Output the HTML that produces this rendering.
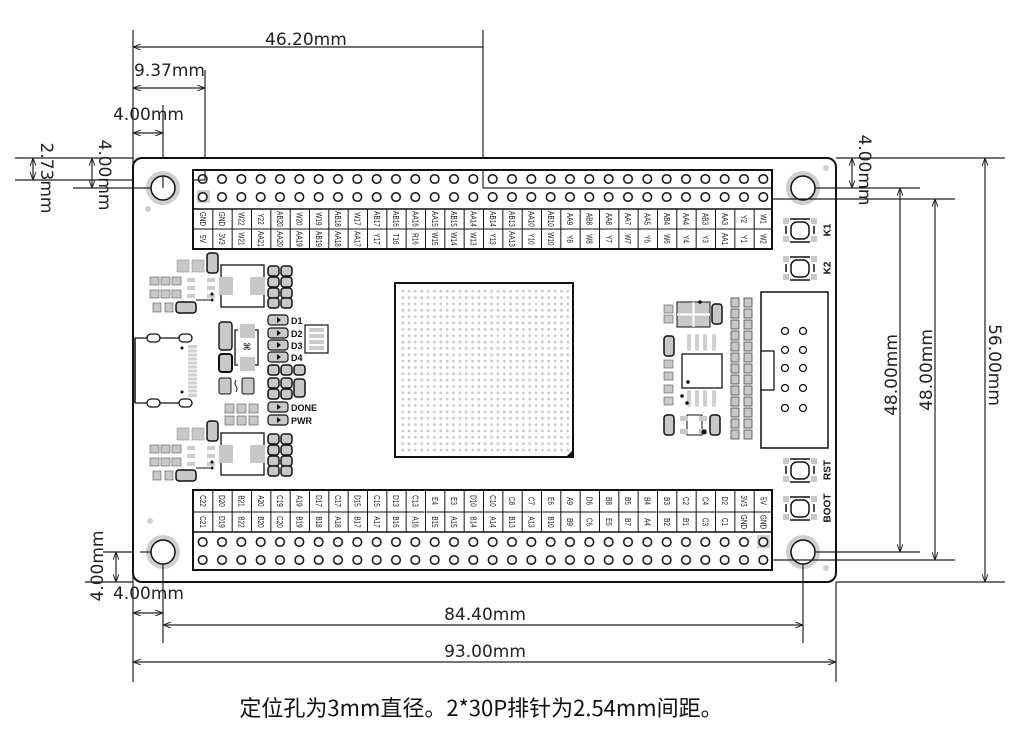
<!DOCTYPE html>
<html><head><meta charset="utf-8"><style>
html,body{margin:0;padding:0;background:#fff;}
svg{display:block;}
.d{font-family:"DejaVu Sans","Liberation Sans",sans-serif;font-size:17px;fill:#222;}
.l{font-family:"Liberation Sans",sans-serif;font-size:8px;fill:#111;}
.b{font-family:"Liberation Sans",sans-serif;font-size:10px;font-weight:bold;fill:#111;}
</style></head><body>
<svg width="1032" height="747" viewBox="0 0 1032 747" xmlns="http://www.w3.org/2000/svg">
<defs>
<marker id="a" markerWidth="8" markerHeight="6" refX="8" refY="3" orient="auto-start-reverse" markerUnits="userSpaceOnUse"><path d="M0,0 L8,3 L0,6" fill="none" stroke="#222" stroke-width="1"/></marker>
<pattern id="pins" x="193" y="170" width="19.333" height="18" patternUnits="userSpaceOnUse"><circle cx="9.67" cy="9" r="4.3" fill="#fff" stroke="#111" stroke-width="1.5"/></pattern>
<pattern id="pins2" x="193" y="533" width="19.333" height="18" patternUnits="userSpaceOnUse"><circle cx="9.67" cy="9" r="4.3" fill="#fff" stroke="#111" stroke-width="1.5"/></pattern>
<pattern id="cols" x="193" y="0" width="19.333" height="10" patternUnits="userSpaceOnUse"><rect x="0" y="0" width="1" height="10" fill="#111"/></pattern>
<pattern id="bga" x="399.5" y="288" width="6.35" height="6.35" patternUnits="userSpaceOnUse"><circle cx="3.2" cy="3.2" r="1.4" fill="#c9c9c9"/></pattern>
<g id="btn">
<rect x="-17" y="-12" width="6" height="6" fill="#c8c8c8"/><rect x="11" y="-12" width="6" height="6" fill="#c8c8c8"/>
<rect x="-17" y="6" width="6" height="6" fill="#c8c8c8"/><rect x="11" y="6" width="6" height="6" fill="#c8c8c8"/>
<line x1="-10" y1="-11" x2="10" y2="-11" stroke="#111" stroke-width="1.5"/>
<line x1="-10" y1="12" x2="10" y2="12" stroke="#111" stroke-width="1.5"/>
<rect x="-9" y="-8" width="18" height="17" rx="6" fill="#fff" stroke="#111" stroke-width="1.5"/>
<line x1="-14" y1="-4" x2="-14" y2="4" stroke="#111" stroke-width="1.5"/>
<line x1="14" y1="-4" x2="14" y2="4" stroke="#111" stroke-width="1.5"/>
</g>
<g id="reg">
<rect x="221" y="265" width="43" height="42" fill="#fff" stroke="#111" stroke-width="1.3"/>
<rect x="219" y="277" width="14" height="18" fill="#c8c8c8"/><rect x="250" y="277" width="15" height="18" fill="#c8c8c8"/>
<rect x="177" y="260" width="12" height="12" fill="#c8c8c8" stroke="#888" stroke-width=".5"/><rect x="192" y="260" width="12" height="12" fill="#c8c8c8" stroke="#888" stroke-width=".5"/>
<rect x="207" y="253" width="11" height="20" rx="3" fill="#c8c8c8" stroke="#111" stroke-width="1.5"/>
<rect x="150" y="277" width="9" height="8" fill="#c8c8c8" stroke="#555" stroke-width=".6"/><rect x="161" y="277" width="9" height="8" fill="#c8c8c8" stroke="#555" stroke-width=".6"/><rect x="172" y="277" width="9" height="8" fill="#c8c8c8" stroke="#555" stroke-width=".6"/>
<rect x="150" y="290" width="9" height="8" fill="#c8c8c8" stroke="#555" stroke-width=".6"/><rect x="161" y="290" width="9" height="8" fill="#c8c8c8" stroke="#555" stroke-width=".6"/><rect x="172" y="290" width="9" height="8" fill="#c8c8c8" stroke="#555" stroke-width=".6"/>
<rect x="187" y="278" width="8" height="4" fill="#ccc"/><rect x="187" y="286" width="8" height="4" fill="#ccc"/><rect x="187" y="294" width="8" height="4" fill="#ccc"/>
<rect x="207" y="278" width="8" height="4" fill="#ccc"/><rect x="207" y="286" width="8" height="4" fill="#ccc"/><rect x="207" y="294" width="8" height="4" fill="#ccc"/>
<circle cx="212" cy="294" r="1.5" fill="#111"/><circle cx="212" cy="300" r="1.5" fill="#111"/><line x1="196" y1="300" x2="210" y2="300" stroke="#111"/>
<rect x="153" y="303" width="8" height="9" fill="#c8c8c8" stroke="#555" stroke-width=".6"/><rect x="165" y="303" width="8" height="9" fill="#c8c8c8" stroke="#555" stroke-width=".6"/>
<rect x="176" y="302" width="20" height="11" rx="3" fill="#c8c8c8" stroke="#111" stroke-width="1.5"/>
<rect x="268" y="266" width="11" height="10" rx="3" fill="#c8c8c8" stroke="#111" stroke-width="1.5"/><rect x="281" y="266" width="11" height="10" rx="3" fill="#c8c8c8" stroke="#111" stroke-width="1.5"/>
<rect x="268" y="277" width="11" height="10" rx="3" fill="#c8c8c8" stroke="#111" stroke-width="1.5"/><rect x="281" y="277" width="11" height="10" rx="3" fill="#c8c8c8" stroke="#111" stroke-width="1.5"/>
<rect x="268" y="288" width="11" height="10" rx="3" fill="#c8c8c8" stroke="#111" stroke-width="1.5"/><rect x="281" y="288" width="11" height="10" rx="3" fill="#c8c8c8" stroke="#111" stroke-width="1.5"/>
<rect x="268" y="298" width="11" height="10" rx="3" fill="#c8c8c8" stroke="#111" stroke-width="1.5"/><rect x="281" y="298" width="11" height="10" rx="3" fill="#c8c8c8" stroke="#111" stroke-width="1.5"/>
</g>
<g id="led"><rect x="0" y="0" width="20" height="10" rx="3" fill="#c8c8c8" stroke="#111" stroke-width="1.2"/><path d="M9,2 L13,5 L9,8Z" fill="#111"/></g>
</defs>

<g stroke="#222" stroke-width="1.2" fill="none">
<line x1="133" y1="30" x2="133" y2="682"/>
<line x1="483" y1="30" x2="483" y2="188"/>
<line x1="483" y1="188" x2="920" y2="188"/>
<line x1="205" y1="70" x2="205" y2="180"/>
<line x1="163" y1="105" x2="163" y2="188"/>
<line x1="133" y1="47" x2="483" y2="47" marker-start="url(#a)"/>
<line x1="133" y1="88" x2="205" y2="88" marker-start="url(#a)" marker-end="url(#a)"/>
<line x1="133" y1="133" x2="163" y2="133" marker-start="url(#a)" marker-end="url(#a)"/>
<line x1="15" y1="158" x2="133" y2="158"/>
<line x1="15" y1="180" x2="205" y2="180"/>
<line x1="73" y1="188" x2="163" y2="188"/>
<line x1="33" y1="158" x2="33" y2="180" marker-start="url(#a)" marker-end="url(#a)"/>
<line x1="92" y1="158" x2="92" y2="188" marker-start="url(#a)" marker-end="url(#a)"/>
<line x1="836" y1="158" x2="1005" y2="158"/>
<line x1="772" y1="199" x2="955" y2="199"/>
<line x1="803" y1="552" x2="920" y2="552"/>
<line x1="772" y1="560" x2="955" y2="560"/>
<line x1="836" y1="582" x2="1005" y2="582"/>
<line x1="852" y1="158" x2="852" y2="188" marker-start="url(#a)" marker-end="url(#a)"/>
<line x1="900" y1="188" x2="900" y2="552" marker-start="url(#a)" marker-end="url(#a)"/>
<line x1="935" y1="199" x2="935" y2="560" marker-start="url(#a)" marker-end="url(#a)"/>
<line x1="985" y1="158" x2="985" y2="582" marker-start="url(#a)" marker-end="url(#a)"/>
<line x1="103" y1="552" x2="163" y2="552"/>
<line x1="85" y1="582" x2="133" y2="582"/>
<line x1="116" y1="552" x2="116" y2="582" marker-start="url(#a)" marker-end="url(#a)"/>
<line x1="163" y1="552" x2="163" y2="643"/>
<line x1="803" y1="552" x2="803" y2="643"/>
<line x1="836" y1="582" x2="836" y2="682"/>
<line x1="133" y1="613" x2="163" y2="613" marker-start="url(#a)" marker-end="url(#a)"/>
<line x1="163" y1="625" x2="803" y2="625" marker-start="url(#a)" marker-end="url(#a)"/>
<line x1="133" y1="662" x2="836" y2="662" marker-start="url(#a)" marker-end="url(#a)"/>
</g>
<g class="d">
<text x="265" y="45">46.20mm</text>
<text x="134" y="76">9.37mm</text>
<text x="113" y="120">4.00mm</text>
<text transform="translate(46,178) rotate(90)" text-anchor="middle" dominant-baseline="central">2.73mm</text>
<text transform="translate(104,175) rotate(90)" text-anchor="middle" dominant-baseline="central">4.00mm</text>
<text transform="translate(864,170) rotate(90)" text-anchor="middle" dominant-baseline="central">4.00mm</text>
<text transform="translate(892,375) rotate(-90)" text-anchor="middle" dominant-baseline="central">48.00mm</text>
<text transform="translate(927,370) rotate(-90)" text-anchor="middle" dominant-baseline="central">48.00mm</text>
<text transform="translate(994,365) rotate(90)" text-anchor="middle" dominant-baseline="central">56.00mm</text>
<text transform="translate(98,566) rotate(-90)" text-anchor="middle" dominant-baseline="central">4.00mm</text>
<text x="113" y="599">4.00mm</text>
<rect x="438" y="605" width="94" height="19" fill="#fff"/>
<text x="485" y="620" text-anchor="middle">84.40mm</text>
<rect x="438" y="643" width="94" height="18" fill="#fff"/>
<text x="485" y="657" text-anchor="middle">93.00mm</text>
</g>
<text x="481" y="716" text-anchor="middle" style="font-family:'Noto Sans CJK SC','Liberation Sans',sans-serif;font-size:22px;fill:#111">定位孔为3mm直径。2*30P排针为2.54mm间距。</text>

<rect x="133" y="158" width="703" height="424" rx="9" fill="#fff" stroke="#111" stroke-width="2"/>
<g>
<circle cx="163" cy="188" r="17" fill="#cfcfcf"/><circle cx="163" cy="188" r="12" fill="#fff" stroke="#111" stroke-width="1.5"/>
<circle cx="803" cy="188" r="17" fill="#cfcfcf"/><circle cx="803" cy="188" r="12" fill="#fff" stroke="#111" stroke-width="1.5"/>
<circle cx="163" cy="552" r="17" fill="#cfcfcf"/><circle cx="163" cy="552" r="12" fill="#fff" stroke="#111" stroke-width="1.5"/>
<circle cx="803" cy="552" r="17" fill="#cfcfcf"/><circle cx="803" cy="552" r="12" fill="#fff" stroke="#111" stroke-width="1.5"/>
<circle cx="148" cy="209" r="3" fill="#cfcfcf"/><circle cx="150" cy="521" r="3" fill="#cfcfcf"/>
<circle cx="826" cy="168" r="3" fill="#cfcfcf"/><circle cx="826" cy="568" r="3" fill="#cfcfcf"/>
</g>
<g stroke="#222" stroke-width="1.2">
<line x1="133" y1="188" x2="151" y2="188"/><line x1="163" y1="176" x2="163" y2="188"/>
<line x1="815" y1="188" x2="836" y2="188"/><line x1="773" y1="199" x2="836" y2="199"/>
<line x1="140" y1="552" x2="151" y2="552"/><line x1="163" y1="564" x2="163" y2="582"/>
<line x1="803" y1="564" x2="803" y2="582"/><line x1="815" y1="552" x2="836" y2="552"/><line x1="772" y1="560" x2="836" y2="560"/>
</g>

<rect x="193" y="170" width="579" height="79" fill="#fff" stroke="#111" stroke-width="2"/>
<rect x="197" y="190" width="13" height="13" fill="#cfcfcf"/>
<rect x="193" y="170" width="579" height="38" fill="url(#pins)"/>
<line x1="483" y1="170" x2="483" y2="188" stroke="#222" stroke-width="1.2"/>
<line x1="205" y1="170" x2="205" y2="180" stroke="#222" stroke-width="1.2"/>
<path d="M483,188 H772 M193,180 H205" stroke="#222" stroke-width="1.2"/>
<line x1="193" y1="209" x2="772" y2="209" stroke="#111" stroke-width="1.5"/>
<line x1="193" y1="229" x2="772" y2="229" stroke="#111" stroke-width="1"/>
<rect x="193" y="209" width="579" height="40" fill="url(#cols)"/>
<rect x="193" y="490" width="579" height="80" fill="#fff" stroke="#111" stroke-width="2"/>
<rect x="193" y="490" width="579" height="42" fill="url(#cols)"/>
<line x1="193" y1="512" x2="772" y2="512" stroke="#111" stroke-width="1"/>
<line x1="193" y1="532" x2="772" y2="532" stroke="#111" stroke-width="1.5"/>
<rect x="757" y="535" width="13" height="13" fill="#cfcfcf"/>
<rect x="193" y="533" width="579" height="36" fill="url(#pins2)"/>

<g class="l" text-anchor="middle" dominant-baseline="central">
<text transform="translate(202.7,219) rotate(90) scale(0.8,1)">GND</text><text transform="translate(222,219) rotate(90) scale(0.8,1)">GND</text><text transform="translate(241.3,219) rotate(90) scale(0.8,1)">W22</text><text transform="translate(260.7,219) rotate(90) scale(0.8,1)">Y22</text><text transform="translate(280,219) rotate(90) scale(0.8,1)">AB20</text><text transform="translate(299.3,219) rotate(90) scale(0.8,1)">W20</text><text transform="translate(318.7,219) rotate(90) scale(0.8,1)">W19</text><text transform="translate(338,219) rotate(90) scale(0.8,1)">AB18</text><text transform="translate(357.3,219) rotate(90) scale(0.8,1)">W17</text><text transform="translate(376.7,219) rotate(90) scale(0.8,1)">AB17</text><text transform="translate(396,219) rotate(90) scale(0.8,1)">AB16</text><text transform="translate(415.3,219) rotate(90) scale(0.8,1)">AA16</text><text transform="translate(434.7,219) rotate(90) scale(0.8,1)">AA15</text><text transform="translate(454,219) rotate(90) scale(0.8,1)">AB15</text><text transform="translate(473.3,219) rotate(90) scale(0.8,1)">AA14</text><text transform="translate(492.7,219) rotate(90) scale(0.8,1)">AB14</text><text transform="translate(512,219) rotate(90) scale(0.8,1)">AB13</text><text transform="translate(531.3,219) rotate(90) scale(0.8,1)">AA10</text><text transform="translate(550.7,219) rotate(90) scale(0.8,1)">AB10</text><text transform="translate(570,219) rotate(90) scale(0.8,1)">AA9</text><text transform="translate(589.3,219) rotate(90) scale(0.8,1)">AB8</text><text transform="translate(608.7,219) rotate(90) scale(0.8,1)">AA8</text><text transform="translate(628,219) rotate(90) scale(0.8,1)">AA7</text><text transform="translate(647.3,219) rotate(90) scale(0.8,1)">AA5</text><text transform="translate(666.7,219) rotate(90) scale(0.8,1)">AB4</text><text transform="translate(686,219) rotate(90) scale(0.8,1)">AA4</text><text transform="translate(705.3,219) rotate(90) scale(0.8,1)">AB3</text><text transform="translate(724.7,219) rotate(90) scale(0.8,1)">AA3</text><text transform="translate(744,219) rotate(90) scale(0.8,1)">Y2</text><text transform="translate(763.3,219) rotate(90) scale(0.8,1)">W1</text>
<text transform="translate(202.7,239) rotate(90) scale(0.8,1)">5V</text><text transform="translate(222,239) rotate(90) scale(0.8,1)">3V3</text><text transform="translate(241.3,239) rotate(90) scale(0.8,1)">W21</text><text transform="translate(260.7,239) rotate(90) scale(0.8,1)">AA21</text><text transform="translate(280,239) rotate(90) scale(0.8,1)">AA20</text><text transform="translate(299.3,239) rotate(90) scale(0.8,1)">AA19</text><text transform="translate(318.7,239) rotate(90) scale(0.8,1)">AB19</text><text transform="translate(338,239) rotate(90) scale(0.8,1)">AA18</text><text transform="translate(357.3,239) rotate(90) scale(0.8,1)">AA17</text><text transform="translate(376.7,239) rotate(90) scale(0.8,1)">Y17</text><text transform="translate(396,239) rotate(90) scale(0.8,1)">T16</text><text transform="translate(415.3,239) rotate(90) scale(0.8,1)">R16</text><text transform="translate(434.7,239) rotate(90) scale(0.8,1)">W15</text><text transform="translate(454,239) rotate(90) scale(0.8,1)">W14</text><text transform="translate(473.3,239) rotate(90) scale(0.8,1)">W13</text><text transform="translate(492.7,239) rotate(90) scale(0.8,1)">Y13</text><text transform="translate(512,239) rotate(90) scale(0.8,1)">AA13</text><text transform="translate(531.3,239) rotate(90) scale(0.8,1)">Y10</text><text transform="translate(550.7,239) rotate(90) scale(0.8,1)">W10</text><text transform="translate(570,239) rotate(90) scale(0.8,1)">Y8</text><text transform="translate(589.3,239) rotate(90) scale(0.8,1)">W8</text><text transform="translate(608.7,239) rotate(90) scale(0.8,1)">Y7</text><text transform="translate(628,239) rotate(90) scale(0.8,1)">W7</text><text transform="translate(647.3,239) rotate(90) scale(0.8,1)">Y6</text><text transform="translate(666.7,239) rotate(90) scale(0.8,1)">W6</text><text transform="translate(686,239) rotate(90) scale(0.8,1)">Y4</text><text transform="translate(705.3,239) rotate(90) scale(0.8,1)">Y3</text><text transform="translate(724.7,239) rotate(90) scale(0.8,1)">AA1</text><text transform="translate(744,239) rotate(90) scale(0.8,1)">Y1</text><text transform="translate(763.3,239) rotate(90) scale(0.8,1)">W2</text>
<text transform="translate(202.7,501) rotate(90) scale(0.8,1)">C22</text><text transform="translate(222,501) rotate(90) scale(0.8,1)">D20</text><text transform="translate(241.3,501) rotate(90) scale(0.8,1)">B21</text><text transform="translate(260.7,501) rotate(90) scale(0.8,1)">A20</text><text transform="translate(280,501) rotate(90) scale(0.8,1)">C19</text><text transform="translate(299.3,501) rotate(90) scale(0.8,1)">A19</text><text transform="translate(318.7,501) rotate(90) scale(0.8,1)">D17</text><text transform="translate(338,501) rotate(90) scale(0.8,1)">C17</text><text transform="translate(357.3,501) rotate(90) scale(0.8,1)">D15</text><text transform="translate(376.7,501) rotate(90) scale(0.8,1)">C15</text><text transform="translate(396,501) rotate(90) scale(0.8,1)">D13</text><text transform="translate(415.3,501) rotate(90) scale(0.8,1)">C13</text><text transform="translate(434.7,501) rotate(90) scale(0.8,1)">E4</text><text transform="translate(454,501) rotate(90) scale(0.8,1)">E3</text><text transform="translate(473.3,501) rotate(90) scale(0.8,1)">D10</text><text transform="translate(492.7,501) rotate(90) scale(0.8,1)">C10</text><text transform="translate(512,501) rotate(90) scale(0.8,1)">C8</text><text transform="translate(531.3,501) rotate(90) scale(0.8,1)">C7</text><text transform="translate(550.7,501) rotate(90) scale(0.8,1)">E6</text><text transform="translate(570,501) rotate(90) scale(0.8,1)">A9</text><text transform="translate(589.3,501) rotate(90) scale(0.8,1)">D6</text><text transform="translate(608.7,501) rotate(90) scale(0.8,1)">B8</text><text transform="translate(628,501) rotate(90) scale(0.8,1)">B5</text><text transform="translate(647.3,501) rotate(90) scale(0.8,1)">B4</text><text transform="translate(666.7,501) rotate(90) scale(0.8,1)">B3</text><text transform="translate(686,501) rotate(90) scale(0.8,1)">C2</text><text transform="translate(705.3,501) rotate(90) scale(0.8,1)">C4</text><text transform="translate(724.7,501) rotate(90) scale(0.8,1)">D2</text><text transform="translate(744,501) rotate(90) scale(0.8,1)">3V3</text><text transform="translate(763.3,501) rotate(90) scale(0.8,1)">5V</text>
<text transform="translate(202.7,522) rotate(90) scale(0.8,1)">C21</text><text transform="translate(222,522) rotate(90) scale(0.8,1)">D19</text><text transform="translate(241.3,522) rotate(90) scale(0.8,1)">B22</text><text transform="translate(260.7,522) rotate(90) scale(0.8,1)">B20</text><text transform="translate(280,522) rotate(90) scale(0.8,1)">C20</text><text transform="translate(299.3,522) rotate(90) scale(0.8,1)">B19</text><text transform="translate(318.7,522) rotate(90) scale(0.8,1)">B18</text><text transform="translate(338,522) rotate(90) scale(0.8,1)">A18</text><text transform="translate(357.3,522) rotate(90) scale(0.8,1)">B17</text><text transform="translate(376.7,522) rotate(90) scale(0.8,1)">A17</text><text transform="translate(396,522) rotate(90) scale(0.8,1)">B16</text><text transform="translate(415.3,522) rotate(90) scale(0.8,1)">A16</text><text transform="translate(434.7,522) rotate(90) scale(0.8,1)">B15</text><text transform="translate(454,522) rotate(90) scale(0.8,1)">A15</text><text transform="translate(473.3,522) rotate(90) scale(0.8,1)">B14</text><text transform="translate(492.7,522) rotate(90) scale(0.8,1)">A14</text><text transform="translate(512,522) rotate(90) scale(0.8,1)">B13</text><text transform="translate(531.3,522) rotate(90) scale(0.8,1)">A13</text><text transform="translate(550.7,522) rotate(90) scale(0.8,1)">B10</text><text transform="translate(570,522) rotate(90) scale(0.8,1)">B9</text><text transform="translate(589.3,522) rotate(90) scale(0.8,1)">C6</text><text transform="translate(608.7,522) rotate(90) scale(0.8,1)">E5</text><text transform="translate(628,522) rotate(90) scale(0.8,1)">B7</text><text transform="translate(647.3,522) rotate(90) scale(0.8,1)">A4</text><text transform="translate(666.7,522) rotate(90) scale(0.8,1)">B2</text><text transform="translate(686,522) rotate(90) scale(0.8,1)">B1</text><text transform="translate(705.3,522) rotate(90) scale(0.8,1)">C3</text><text transform="translate(724.7,522) rotate(90) scale(0.8,1)">C1</text><text transform="translate(744,522) rotate(90) scale(0.8,1)">GND</text><text transform="translate(763.3,522) rotate(90) scale(0.8,1)">GND</text>
</g>

<rect x="395" y="283" width="178" height="174" fill="#fff" stroke="#111" stroke-width="2"/>
<rect x="399" y="287" width="170" height="166" fill="url(#bga)"/>
<path d="M573,450 L573,457 L566,457Z" fill="#111"/>

<use href="#reg"/>
<use href="#reg" transform="translate(0,168)"/>
<line x1="135" y1="338" x2="135" y2="403" stroke="#111" stroke-width="1.5"/>
<line x1="135" y1="338" x2="185" y2="338" stroke="#111" stroke-width="1.3"/>
<line x1="135" y1="403" x2="185" y2="403" stroke="#111" stroke-width="1.3"/>
<rect x="147" y="334" width="13" height="8" rx="4" fill="#fff" stroke="#111" stroke-width="1.3"/><rect x="179" y="334" width="13" height="8" rx="4" fill="#fff" stroke="#111" stroke-width="1.3"/>
<rect x="147" y="399" width="13" height="8" rx="4" fill="#fff" stroke="#111" stroke-width="1.3"/><rect x="179" y="399" width="13" height="8" rx="4" fill="#fff" stroke="#111" stroke-width="1.3"/>
<rect x="188" y="345" width="9" height="52" fill="#d0d0d0"/>
<path d="M188,349 H197 M188,353 H197 M188,357 H197 M188,361 H197 M188,365 H197 M188,369 H197 M188,373 H197 M188,377 H197 M188,381 H197 M188,385 H197 M188,389 H197 M188,393 H197" stroke="#fff" stroke-width="1"/>
<circle cx="182" cy="348" r="1.5" fill="#111"/><circle cx="182" cy="392" r="1.5" fill="#111"/>
<rect x="219" y="322" width="13" height="28" rx="3" fill="#c8c8c8" stroke="#111" stroke-width="1.4"/>
<rect x="219" y="354" width="13" height="18" rx="3" fill="#c8c8c8" stroke="#111" stroke-width="2"/>
<path d="M238,330 h-3 v35 h3 M255,330 h3 v35 h-3" fill="none" stroke="#111" stroke-width="1.3"/>
<rect x="240" y="324" width="15" height="14" fill="#c8c8c8"/><rect x="240" y="357" width="15" height="14" fill="#c8c8c8"/>
<text x="247" y="350" text-anchor="middle" style="font-size:9px;font-family:'DejaVu Sans',sans-serif;fill:#111">⌘</text>
<rect x="219" y="378" width="12" height="16" rx="2" fill="#c8c8c8" stroke="#111" stroke-width="1"/><rect x="242" y="378" width="12" height="16" rx="2" fill="#c8c8c8" stroke="#111" stroke-width="1"/>
<path d="M236,380 q-2,4 0,6 q2,3 0,6" fill="none" stroke="#111"/>
<g fill="#c8c8c8" stroke="#555" stroke-width=".6">
<rect x="225" y="404" width="9" height="9"/><rect x="237" y="404" width="9" height="9"/><rect x="249" y="404" width="9" height="9"/>
<rect x="225" y="416" width="9" height="9"/><rect x="237" y="416" width="9" height="9"/><rect x="249" y="416" width="9" height="9"/>
</g>
<use href="#led" x="268" y="315"/><use href="#led" x="268" y="328"/><use href="#led" x="268" y="340"/><use href="#led" x="268" y="352"/>
<use href="#led" x="268" y="402"/><use href="#led" x="268" y="415"/>
<g style="font-family:'Liberation Sans',sans-serif;font-size:9px;font-weight:bold;fill:#111">
<text x="291" y="324">D1</text><text x="291" y="337">D2</text><text x="291" y="349">D3</text><text x="291" y="361">D4</text>
<text x="291" y="411">DONE</text><text x="291" y="424">PWR</text>
</g>
<rect x="305" y="325" width="23" height="28" fill="#fff" stroke="#111" stroke-width="1.2"/>
<path d="M309,330 h15 M309,336 h15 M309,342 h15 M309,348 h15" stroke="#ccc" stroke-width="4"/>
<g>
<rect x="268" y="365" width="11" height="10" rx="3" fill="#c8c8c8" stroke="#111" stroke-width="1.5"/><rect x="281" y="365" width="11" height="10" rx="3" fill="#c8c8c8" stroke="#111" stroke-width="1.5"/><rect x="294" y="365" width="11" height="10" rx="3" fill="#c8c8c8" stroke="#111" stroke-width="1.5"/>
<rect x="268" y="378" width="11" height="10" rx="3" fill="#c8c8c8" stroke="#111" stroke-width="1.5"/><rect x="281" y="378" width="11" height="10" rx="3" fill="#c8c8c8" stroke="#111" stroke-width="1.5"/><rect x="294" y="379" width="11" height="18" rx="3" fill="#c8c8c8" stroke="#111" stroke-width="1.5"/>
<rect x="268" y="389" width="11" height="10" rx="3" fill="#c8c8c8" stroke="#111" stroke-width="1.5"/><rect x="281" y="389" width="11" height="10" rx="3" fill="#c8c8c8" stroke="#111" stroke-width="1.5"/>
</g>

<g fill="#c8c8c8" stroke="#444" stroke-width=".8">
<rect x="731" y="298" width="8" height="9"/><rect x="744" y="298" width="8" height="9"/>
<rect x="731" y="309" width="8" height="9"/><rect x="744" y="309" width="8" height="9"/>
<rect x="731" y="320" width="8" height="9"/><rect x="744" y="320" width="8" height="9"/>
<rect x="731" y="331" width="8" height="9"/><rect x="744" y="331" width="8" height="9"/>
<rect x="731" y="342" width="8" height="9"/><rect x="744" y="342" width="8" height="9"/>
<rect x="731" y="353" width="8" height="9"/><rect x="744" y="353" width="8" height="9"/>
<rect x="731" y="364" width="8" height="9"/><rect x="744" y="364" width="8" height="9"/>
<rect x="731" y="375" width="8" height="9"/><rect x="744" y="375" width="8" height="9"/>
<rect x="731" y="386" width="8" height="9"/><rect x="744" y="386" width="8" height="9"/>
<rect x="731" y="397" width="8" height="9"/><rect x="744" y="397" width="8" height="9"/>
<rect x="731" y="408" width="8" height="9"/><rect x="744" y="408" width="8" height="9"/>
<rect x="731" y="419" width="8" height="9"/><rect x="744" y="419" width="8" height="9"/>
<rect x="731" y="430" width="8" height="9"/><rect x="744" y="430" width="8" height="9"/>
</g>
<rect x="761" y="292" width="67" height="156" fill="#fff" stroke="#111" stroke-width="1.5"/>
<rect x="761" y="351" width="13" height="39" fill="#fff" stroke="#111" stroke-width="1.3"/>
<g fill="#fff" stroke="#111" stroke-width="1.3">
<circle cx="785" cy="331" r="3.5"/><circle cx="803" cy="331" r="3.5"/>
<circle cx="785" cy="350" r="3.5"/><circle cx="803" cy="350" r="3.5"/>
<circle cx="785" cy="368" r="3.5"/><circle cx="803" cy="368" r="3.5"/>
<circle cx="785" cy="388" r="3.5"/><circle cx="803" cy="388" r="3.5"/>
<circle cx="785" cy="408" r="3.5"/><circle cx="803" cy="408" r="3.5"/>
</g>
<rect x="677" y="302" width="33" height="25" fill="#c8c8c8" stroke="#111" stroke-width="1"/>
<path d="M693.5,302 v25 M677,314.5 h33" stroke="#fff" stroke-width="2"/>
<circle cx="700" cy="302" r="1.8" fill="#111"/>
<rect x="664" y="305" width="9" height="8" fill="#c8c8c8" stroke="#555" stroke-width=".6"/><rect x="664" y="315" width="9" height="8" fill="#c8c8c8" stroke="#555" stroke-width=".6"/>
<rect x="712" y="304" width="10" height="20" rx="3" fill="#c8c8c8" stroke="#111" stroke-width="1.5"/>
<rect x="664" y="336" width="10" height="20" rx="3" fill="#c8c8c8" stroke="#111" stroke-width="1.5"/>
<rect x="664" y="360" width="9" height="8" fill="#c8c8c8" stroke="#555" stroke-width=".6"/><rect x="664" y="372" width="9" height="8" fill="#c8c8c8" stroke="#555" stroke-width=".6"/>
<rect x="664" y="385" width="9" height="8" fill="#c8c8c8" stroke="#555" stroke-width=".6"/><rect x="664" y="397" width="9" height="8" fill="#c8c8c8" stroke="#555" stroke-width=".6"/>
<path d="M689,336 v13 M697,336 v13 M705,336 v13 M714,336 v13 M689,392 v13 M697,392 v13 M705,392 v13 M714,392 v13" stroke="#d0d0d0" stroke-width="4" stroke-linecap="round"/>
<rect x="682" y="354" width="40" height="34" fill="#fff" stroke="#111" stroke-width="1.3"/>
<circle cx="688" cy="382" r="1.8" fill="#111"/><circle cx="682" cy="396" r="1.8" fill="#111"/><circle cx="687" cy="403" r="1.8" fill="#111"/>
<rect x="664" y="415" width="10" height="20" rx="3" fill="#c8c8c8" stroke="#111" stroke-width="1.5"/>
<rect x="710" y="415" width="10" height="20" rx="3" fill="#c8c8c8" stroke="#111" stroke-width="1.5"/>
<path d="M687,415 h15 v20 h-15z" fill="none" stroke="#111" stroke-width="1"/>
<rect x="680" y="416" width="8" height="5" fill="#c8c8c8"/><rect x="680" y="429" width="8" height="5" fill="#c8c8c8"/><rect x="699" y="416" width="8" height="5" fill="#c8c8c8"/><rect x="699" y="429" width="8" height="5" fill="#c8c8c8"/>
<circle cx="704" cy="432" r="2.5" fill="#111"/>

<use href="#btn" transform="translate(800,230)"/>
<use href="#btn" transform="translate(800,268)"/>
<use href="#btn" transform="translate(800,470)"/>
<use href="#btn" transform="translate(800,508)"/>
<g class="b" text-anchor="middle" dominant-baseline="central">
<text transform="translate(828,230) rotate(-90)">K1</text>
<text transform="translate(828,268) rotate(-90)">K2</text>
<text transform="translate(828,470) rotate(-90)">RST</text>
<text transform="translate(828,508) rotate(-90)">BOOT</text>
</g>
</svg>
</body></html>
